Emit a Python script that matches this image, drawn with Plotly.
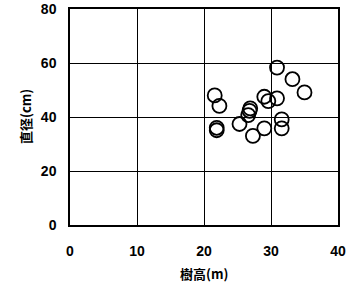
import plotly.graph_objects as go

tree_height = [30.9, 33.2, 35.0, 21.6, 22.3, 29.0, 30.9, 29.6, 26.9, 26.8, 26.6, 25.3, 31.6, 31.6, 29.0, 27.3, 21.9, 21.9]
diameter    = [58.3, 54.0, 49.1, 48.0, 44.1, 47.5, 46.9, 45.9, 43.2, 42.3, 40.7, 37.4, 39.1, 35.8, 35.8, 33.0, 36.0, 35.1]

x_ticks = [0, 10, 20, 30, 40]
y_ticks = [0, 20, 40, 60, 80]

fig = go.Figure()
fig.add_trace(go.Scatter(
    x=tree_height, y=diameter, mode="markers",
    marker=dict(symbol="circle-open", size=14, color="black", line=dict(width=1.8, color="black")),
    showlegend=False,
))

num_font = dict(family="Liberation Sans, Arial, sans-serif", size=14, color="black")
cjk_font = dict(family="Noto Sans CJK JP, sans-serif", size=13, color="black")

fig.update_layout(
    width=354, height=290,
    margin=dict(l=70, r=16, t=9, b=65),
    paper_bgcolor="white", plot_bgcolor="white",
    font=dict(family="Liberation Sans, Arial, sans-serif", color="black", size=14),
)
fig.update_xaxes(
    range=[0, 40], tickvals=x_ticks, ticktext=[f"<b>{v}</b>" for v in x_ticks],
    tickfont=num_font,
    showgrid=True, gridcolor="black", gridwidth=1,
    showline=True, linecolor="black", linewidth=1.5, mirror=True,
    ticks="outside", ticklen=12, tickcolor="rgba(0,0,0,0)",
    zeroline=False, automargin=False,
)
fig.update_yaxes(
    range=[0, 80], tickvals=y_ticks, ticktext=[f"<b>{v}</b>" for v in y_ticks],
    tickfont=num_font,
    showgrid=True, gridcolor="black", gridwidth=1,
    showline=True, linecolor="black", linewidth=1.5, mirror=True,
    ticks="outside", ticklen=9, tickcolor="rgba(0,0,0,0)",
    zeroline=False, automargin=False,
)
fig.add_annotation(text="<b>樹高(m)</b>", xref="paper", yref="paper", x=0.5, y=0,
                   yshift=-48, showarrow=False, font=cjk_font, xanchor="center", yanchor="middle")
fig.add_annotation(text="<b>直径(cm)</b>", xref="paper", yref="paper", x=0, y=0.5,
                   xshift=-45, showarrow=False, font=cjk_font, textangle=-90,
                   xanchor="center", yanchor="middle")
fig.write_html("out.html", config={"displayModeBar": False},
               post_script="document.body.style.margin='0';document.body.style.overflow='hidden';")
